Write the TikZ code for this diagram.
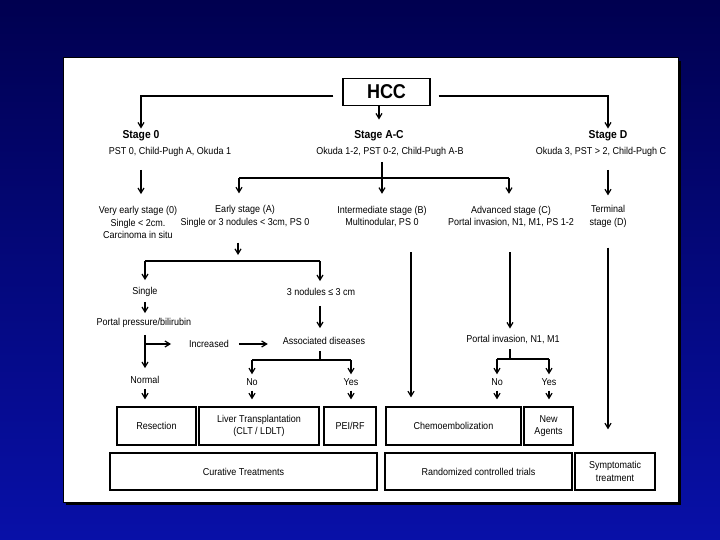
\documentclass[tikz,border=0pt]{standalone}
\usepackage{fontspec}
\setmainfont{Liberation Sans}[FakeStretch=0.9]
\usetikzlibrary{arrows.meta,calc}
\definecolor{bgtop}{HTML}{000050}
\definecolor{bgbot}{HTML}{0810A8}
\begin{document}
\begin{tikzpicture}[x=1pt,y=-1pt,
  txt/.style={font=\fontsize{10}{12.5}\selectfont, align=center, inner sep=0pt},
  hd/.style={font=\fontsize{11.5}{13}\selectfont\bfseries, inner sep=0pt},
  box/.style={draw, line width=1.3pt, align=center, font=\fontsize{10}{12.5}\selectfont, inner sep=0pt, minimum height=38pt},
  ln/.style={line width=1.2pt},
  arr/.style={ln, -{Straight Barb[length=5pt,width=6pt,line width=1.2pt]}},
]
\useasboundingbox (0,0) rectangle (720,540);
\shade[top color=bgtop, bottom color=bgbot] (0,0) rectangle (720,540);
\fill[black] (66,61) rectangle (681,505);
\fill[white] (63,58) rectangle (678,502);
\draw[black, line width=1pt] (63,58) rectangle (678,502);

\node[draw, line width=1.3pt, minimum width=87pt, minimum height=27pt, inner sep=0pt, font=\fontsize{20}{22}\selectfont\bfseries] (hcc) at (386.5,92) {HCC};

\node[hd] (s0) at (141,136) {Stage 0};
\node[txt] (s0d) at (170,152) {PST 0, Child-Pugh A, Okuda 1};
\node[hd] (sac) at (379,136) {Stage A-C};
\node[txt] (sacd) at (390,152) {Okuda 1-2, PST 0-2, Child-Pugh A-B};
\node[hd] (sd) at (608,136) {Stage D};
\node[txt] (sdd) at (601,152) {Okuda 3, PST > 2, Child-Pugh C};

\node[txt] (ve) at (138,222.5) {Very early stage (0)\\Single < 2cm.\\Carcinoma in situ};
\node[txt] (ea) at (245,216.5) {Early stage (A)\\Single or 3 nodules < 3cm, PS 0};
\node[txt] (im) at (382,216.5) {Intermediate stage (B)\\Multinodular, PS 0};
\node[txt] (ad) at (511,216.5) {Advanced stage (C)\\Portal invasion, N1, M1, PS 1-2};
\node[txt] (te) at (608,216.5) {Terminal\\stage (D)};

\node[txt] (sg) at (145,292) {Single};
\node[txt] (n3) at (321,292) {3 nodules ≤ 3 cm};
\node[txt] (pp) at (144,323) {Portal pressure/bilirubin};
\node[txt] (inc) at (209,344) {Increased};
\node[txt] (as) at (324,341) {Associated diseases};
\node[txt] (nm) at (145,380) {Normal};
\node[txt] (no1) at (252,382) {No};
\node[txt] (ye1) at (351,382) {Yes};
\node[txt] (pi) at (513,340) {Portal invasion, N1, M1};
\node[txt] (no2) at (497,382) {No};
\node[txt] (ye2) at (549,382) {Yes};

\node[box, minimum width=79pt] (rs) at (156.5,426) {Resection};
\node[box, minimum width=120pt] (lt) at (259,426) {Liver Transplantation\\(CLT / LDLT)};
\node[box, minimum width=52pt] (pe) at (350,426) {PEI/RF};
\node[box, minimum width=135pt] (ch) at (453.5,426) {Chemoembolization};
\node[box, minimum width=49pt] (na) at (548.5,426) {New\\Agents};
\node[box, minimum width=267pt, minimum height=37pt] (ct) at (243.5,471.5) {Curative Treatments};
\node[box, minimum width=187pt, minimum height=37pt] (rc) at (478.5,471.5) {Randomized controlled trials};
\node[box, minimum width=80pt, minimum height=37pt] (st) at (615,471.5) {Symptomatic\\treatment};

\coordinate (jac) at (382,178);
\coordinate (hac1) at (239,178);
\coordinate (hac2) at (509,178);
\coordinate (je) at (238,261);
\coordinate (he1) at (145,261);
\coordinate (he2) at (320,261);
\coordinate (jp) at (145,344);
\coordinate (ja) at (320,360);
\coordinate (ja1) at (252,360);
\coordinate (ja2) at (351,360);
\coordinate (colb) at (411,0);
\coordinate (colc) at (510,0);
\coordinate (jc) at (510,359);
\coordinate (jc1) at (497,359);
\coordinate (jc2) at (549,359);

\draw[arr, shorten >=2pt] ([shift={(-9,4)}]hcc.west) -| (s0.north);
\draw[arr, shorten >=2pt] ([shift={(8,4)}]hcc.east) -| (sd.north);
\draw[arr, shorten >=11pt] (hcc.south -| sac.north) -- (sac.north);

\draw[arr, shorten <=13pt, shorten >=12pt] (s0d.south -| s0.south) -- (ve.north -| s0.south);
\draw[ln, shorten <=5pt] (sacd.south -| jac) -- (jac);
\draw[ln] (hac1) -- (hac2);
\draw[arr, shorten >=12pt] (hac1) -- (ea.north -| hac1);
\draw[arr, shorten >=12pt] (jac) -- (im.north -| jac);
\draw[arr, shorten >=12pt] (hac2) -- (ad.north -| hac2);
\draw[arr, shorten <=13pt, shorten >=10pt] (sdd.south -| te.north) -- (te.north);

\draw[arr, shorten <=15pt, shorten >=6pt] (ea.south -| je) -- (je);
\draw[ln] (he1) -- (he2);
\draw[arr, shorten >=7pt] (he1) -- (sg.north);
\draw[arr, shorten >=7pt] (he2) -- (n3.north -| he2);
\draw[arr, shorten <=5pt, shorten >=5pt] (sg.south) -- (pp.north -| sg.south);
\draw[arr, shorten <=7pt, shorten >=8pt] (pp.south -| sg.south) -- (nm.north);
\draw[arr, shorten >=18pt] (jp) -- (inc.west);
\draw[arr, shorten <=10pt, shorten >=15pt] (inc.east) -- (as.west |- inc.east);
\draw[arr, shorten <=10pt, shorten >=9pt] (n3.south -| he2) -- (as.north -| he2);
\draw[ln, shorten <=6pt] (as.south -| ja) -- (ja);
\draw[ln] (ja1) -- (ja2);
\draw[arr, shorten >=4pt] (ja1) -- (no1.north);
\draw[arr, shorten >=4pt] (ja2) -- (ye1.north);
\draw[arr, shorten <=5pt, shorten >=7pt] (nm.south) -- (rs.north -| nm.south);
\draw[arr, shorten <=5pt, shorten >=7pt] (no1.south) -- (lt.north -| no1.south);
\draw[arr, shorten <=5pt, shorten >=7pt] (ye1.south) -- (pe.north -| ye1.south);

\draw[arr, shorten <=25pt, shorten >=9pt] (im.south -| colb) -- (ch.north -| colb);
\draw[arr, shorten <=25pt, shorten >=7pt] (ad.south -| colc) -- (pi.north -| colc);
\draw[ln, shorten <=5pt] (pi.south -| jc) -- (jc);
\draw[ln] (jc1) -- (jc2);
\draw[arr, shorten >=4pt] (jc1) -- (no2.north);
\draw[arr, shorten >=4pt] (jc2) -- (ye2.north);
\draw[arr, shorten <=5pt, shorten >=7pt] (no2.south) -- (ch.north -| no2.south);
\draw[arr, shorten <=5pt, shorten >=7pt] (ye2.south) -- (na.north -| ye2.south);
\draw[arr, shorten <=20pt, shorten >=23pt] (te.south) -- (st.north -| te.south);
\end{tikzpicture}
\end{document}
